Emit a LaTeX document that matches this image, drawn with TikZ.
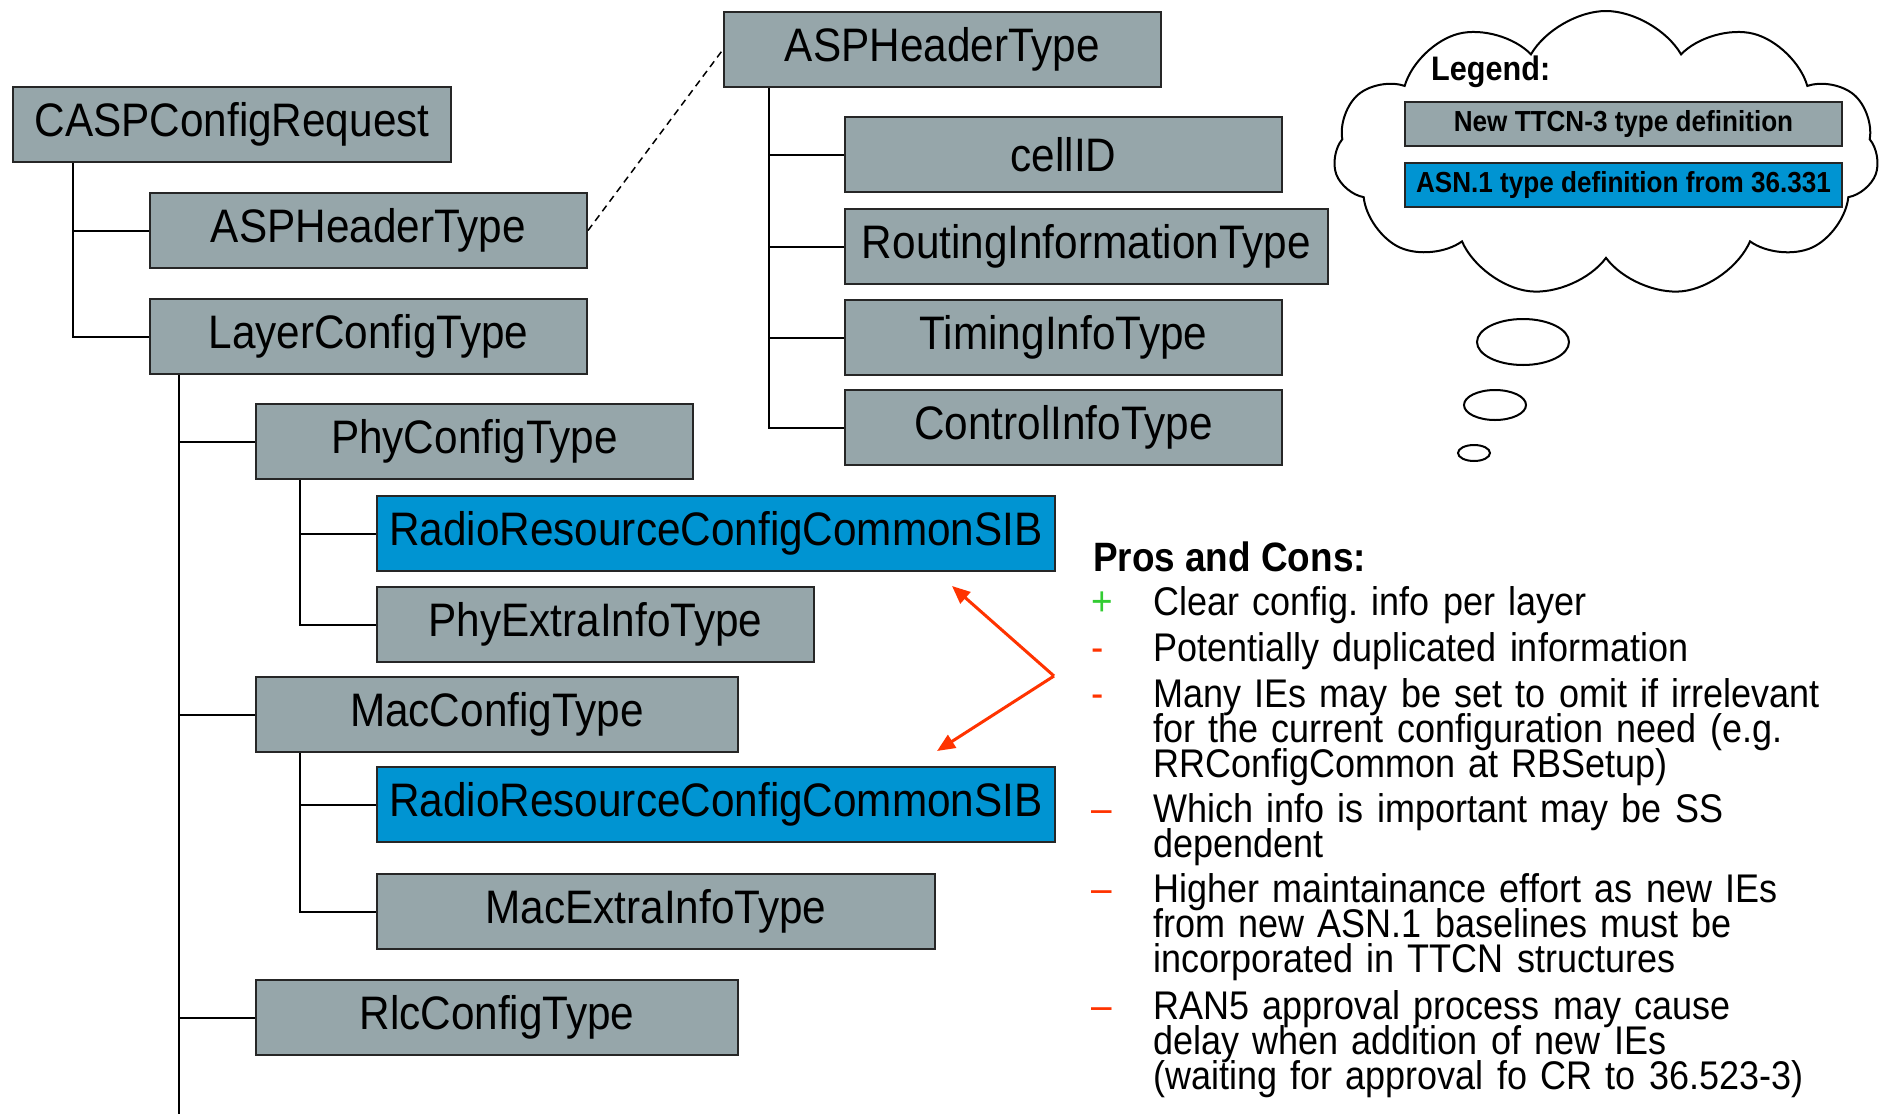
\documentclass[tikz,border=0pt]{standalone}
\usepackage{fontspec}
\setmainfont{Liberation Sans}[FakeStretch=0.9]
\usetikzlibrary{arrows.meta,shapes.symbols}
\definecolor{typegrey}{HTML}{96A6AA}
\definecolor{asnblue}{HTML}{0094D2}
\definecolor{conred}{HTML}{FF3300}
\definecolor{progreen}{HTML}{33CC33}
\frenchspacing
\DeclareRobustCommand\tightlines{\lineskiplimit=-50pt\relax\lineskip=0pt\relax}

\begin{document}
\begin{tikzpicture}[x=1pt,y=-1pt,
    typebox/.style={draw=black!85, line width=2pt, fill=typegrey,
      anchor=north west, inner sep=0pt, minimum height=75pt,
      font=\fontsize{47}{50}\selectfont},
    asnbox/.style={typebox, fill=asnblue},
    treeline/.style={black, line width=2pt},
    conarrow/.style={conred, line width=3pt,
      -{Triangle[length=18pt,width=15pt]}},
    prositem/.style={inner sep=0pt, anchor=base west, text width=800pt,
      align=left, font=\fontsize{40}{35}\selectfont\tightlines},
    legendbox/.style={typebox, minimum width=437pt, minimum height=44pt,
      font=\fontsize{29}{31}\selectfont\bfseries}]
    \path[use as bounding box] (0,0) rectangle (1883,1114);

    % Left tree: the layer oriented configuration request.
    \node[typebox, minimum width=438pt] (casp) at (12,86) {CASPConfigRequest};
    \node[typebox, minimum width=437pt] (asp) at (149,192) {ASPHeaderType};
    \node[typebox, minimum width=437pt] (layer) at (149,298) {LayerConfigType};
    \node[typebox, minimum width=437pt] (phy) at (255,403) {PhyConfigType};
    \node[asnbox, minimum width=678pt] (rrcphy) at (376,495)
      {RadioResourceConfigCommonSIB};
    \node[typebox, minimum width=437pt] (phyextra) at (376,586) {PhyExtraInfoType};
    \node[typebox, minimum width=482pt] (mac) at (255,676) {MacConfigType};
    \node[asnbox, minimum width=678pt] (rrcmac) at (376,766)
      {RadioResourceConfigCommonSIB};
    \node[typebox, minimum width=558pt] (macextra) at (376,873) {MacExtraInfoType};
    \node[typebox, minimum width=482pt] (rlc) at (255,979) {RlcConfigType};

    % Right tree: contents of the ASP header.
    \node[typebox, minimum width=437pt] (asptop) at (723,11) {ASPHeaderType};
    \node[typebox, minimum width=437pt] (cellid) at (844,116) {cellID};
    \node[typebox, minimum width=483pt] (routing) at (844,208)
      {RoutingInformationType};
    \node[typebox, minimum width=437pt] (timing) at (844,299) {TimingInfoType};
    \node[typebox, minimum width=437pt] (control) at (844,389) {ControlInfoType};

    % Trunks of the trees.
    \coordinate (casptrunk) at ([xshift=61]casp.south west);
    \coordinate (layertrunk) at ([xshift=30]layer.south west);
    \coordinate (phytrunk) at ([xshift=45]phy.south west);
    \coordinate (mactrunk) at ([xshift=45]mac.south west);
    \coordinate (asptrunk) at ([xshift=46]asptop.south west);
    \coordinate (treebottom) at (0,1116);

    \foreach \child in {asp,layer} {
      \draw[treeline] (casptrunk) |- (\child.west);
    }
    \draw[treeline] (layertrunk) -- (layertrunk |- treebottom);
    \foreach \child in {phy,mac,rlc} {
      \draw[treeline] (layertrunk) |- (\child.west);
    }
    \foreach \child in {rrcphy,phyextra} {
      \draw[treeline] (phytrunk) |- (\child.west);
    }
    \foreach \child in {rrcmac,macextra} {
      \draw[treeline] (mactrunk) |- (\child.west);
    }
    \foreach \child in {cellid,routing,timing,control} {
      \draw[treeline] (asptrunk) |- (\child.west);
    }

    % The header type is expanded on the right.
    \draw[black, line width=1.5pt, dash pattern=on 7pt off 5pt]
      (asp.east) -- (asptop.west);

    % Duplicated ASN.1 definitions.
    \coordinate (pivot) at (1054,676);
    \coordinate (uptip) at (952,586);
    \coordinate (downtip) at (937,751);
    \draw[conarrow] (pivot) -- (uptip);
    \draw[conarrow] (pivot) -- (downtip);

    % Legend in a thought cloud.
    \node[cloud, draw, fill=white, line width=2pt, cloud puffs=11,
      cloud puff arc=120, aspect=1.9, minimum width=545pt,
      minimum height=286pt] (legendcloud) at (1606,154) {};
    \node[inner sep=0pt, anchor=base west,
      font=\fontsize{34}{36}\selectfont\bfseries] (legendhead) at (1431,80)
      {Legend:};
    \node[legendbox] (legendnew) at (1404,101) {New TTCN-3 type definition};
    \node[legendbox, fill=asnblue] (legendasn) at (1404,162)
      {ASN.1 type definition from 36.331};
    \draw[line width=2pt] (1523,342) ellipse[x radius=46, y radius=23];
    \draw[line width=2pt] (1495,405) ellipse[x radius=31, y radius=15];
    \draw[line width=2pt] (1474,453) ellipse[x radius=16, y radius=8];

    % Pros and cons list.
    \node[inner sep=0pt, anchor=base west,
      font=\fontsize{41}{35}\selectfont\bfseries] (proshead) at (1093,571)
      {Pros and Cons:};
    \foreach \sign/\signcolor/\base/\itemtext [count=\i] in {
      +/progreen/615/{Clear config. info per layer},
      -/conred/661/{Potentially duplicated information},
      -/conred/707/{Many IEs may be set to omit if irrelevant\\
        for the current configuration need (e.g.\\
        RRConfigCommon at RBSetup)},
      –/conred/822/{Which info is important may be SS\\dependent},
      –/conred/902/{Higher maintainance effort as new IEs\\
        from new ASN.1 baselines must be\\
        incorporated in TTCN structures},
      –/conred/1019/{RAN5 approval process may cause\\
        delay when addition of new IEs\\
        (waiting for approval fo CR to 36.523-3)}} {
      \node[inner sep=0pt, anchor=base west, text=\signcolor,
        font=\fontsize{41}{35}\selectfont] (sign\i) at (1091,\base) {\sign};
      \node[prositem] (item\i) at (1153,\base) {\itemtext};
    }
  \end{tikzpicture}
\end{document}
